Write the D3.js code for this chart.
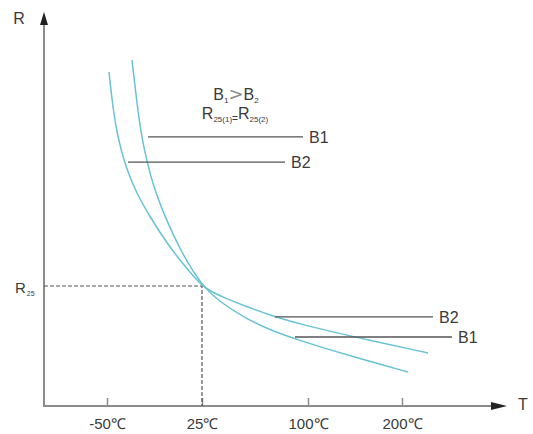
<!DOCTYPE html>
<html>
<head>
<meta charset="utf-8">
<script src="https://cdn.jsdelivr.net/npm/d3@7"></script>
<style>
html,body{margin:0;padding:0;background:#fff;}
svg{display:block;font-family:"Liberation Sans",Arial,sans-serif;}
</style>
</head>
<body>
<svg id="chart" width="533" height="434"></svg>
<script>
// ---- data (T in °C, R relative to R25) ----
const tickValues = [-50, 25, 100, 200];
const tickLabels = ["-50℃", "25℃", "100℃", "200℃"];

const b1T = [-30.26, -26.71, -22.37, -17.63, -13.68, -4.21, 7.63, 25, 37.74, 55.42, 73.11, 90.80, 144.68, 206.38];
const b1R = [2.883, 2.55, 2.217, 2.008, 1.842, 1.575, 1.30, 1.0, 0.867, 0.733, 0.633, 0.558, 0.417, 0.283];

const b2T = [-48.42, -46.05, -42.89, -38.95, -34.21, -27.11, -16.05, -1.84, 13.16, 25, 32.08, 41.27, 55.42, 76.65, 94.34, 144.68, 227.66];
const b2R = [2.783, 2.55, 2.317, 2.133, 1.967, 1.783, 1.575, 1.342, 1.142, 1.0, 0.95, 0.90, 0.833, 0.742, 0.683, 0.583, 0.442];

const refT = 25, refR = 1;

// label leader lines: name, R level, T start, T end
const leaderNames = ["B1", "B2", "B2", "B1"];
const leaderR = [2.242, 2.033, 0.742, 0.575];
const leaderT0 = [-17.6, -33.4, 76.6, 90.8];
const leaderT1 = [96.5, 83.7, 233, 253.2];

// ---- scales ----
const x = d3.scaleLinear().domain(tickValues).range([107, 202, 308, 402]);
const y = d3.scaleLinear().domain([0, 1]).range([406, 286]);

const svg = d3.select("#chart");
const axisColor = "#8c8c8c";
const textColor = "#3a3a3a";
const curveColor = "#67c3d3";
const FONT = "'Liberation Sans', Arial, sans-serif";

const x0 = 44, yBase = y(0);

// axes lines with arrows
svg.append("line").attr("x1", x0).attr("y1", yBase).attr("x2", x0).attr("y2", 22)
  .attr("stroke", axisColor).attr("stroke-width", 2);
svg.append("path").attr("d", `M${x0},12 L${x0-4},25 L${x0+4},25 Z`).attr("fill", "#222");
svg.append("line").attr("x1", x0 - 1).attr("y1", yBase).attr("x2", 494).attr("y2", yBase)
  .attr("stroke", axisColor).attr("stroke-width", 2);
svg.append("path").attr("d", `M507,${yBase} L491,${yBase-4} L491,${yBase+4} Z`).attr("fill", "#222");

// x axis ticks
const ax = svg.append("g").attr("transform", `translate(0,${yBase})`)
  .call(d3.axisBottom(x).tickValues(tickValues).tickFormat((d, i) => tickLabels[i]).tickSize(-8).tickPadding(12));
ax.select(".domain").remove();
ax.selectAll(".tick line").attr("stroke", axisColor).attr("stroke-width", 1.5);
ax.selectAll(".tick text").attr("fill", textColor).attr("font-size", 15).attr("font-family", FONT);

// axis labels
svg.append("text").attr("x", 19).attr("y", 24).attr("text-anchor", "middle")
  .attr("font-size", 16).attr("fill", textColor).text("R");
svg.append("text").attr("x", 523).attr("y", 410).attr("text-anchor", "middle")
  .attr("font-size", 16).attr("fill", textColor).text("T");

// R25 dashed guides
svg.append("path")
  .attr("d", `M${x0},${y(refR)} H${x(refT)} V${yBase}`)
  .attr("fill", "none").attr("stroke", "#555").attr("stroke-width", 1.2)
  .attr("stroke-dasharray", "4,2");
const r25 = svg.append("text").attr("x", 15).attr("y", 293).attr("fill", textColor).attr("font-size", 15);
r25.append("tspan").text("R");
r25.append("tspan").attr("font-size", 7).attr("dy", 3).attr("dx", 1).text("25");

// curves
const line = d3.line().x(d => x(d[0])).y(d => y(d[1])).curve(d3.curveBasis);
const b1 = b1T.map((t, i) => [t, b1R[i]]);
const b2 = b2T.map((t, i) => [t, b2R[i]]);
[b1, b2].forEach(s => {
  svg.append("path").datum(s).attr("d", line)
    .attr("fill", "none").attr("stroke", curveColor).attr("stroke-width", 1.5);
});

// leader lines + labels
leaderNames.forEach((n, i) => {
  svg.append("line").attr("x1", x(leaderT0[i])).attr("x2", x(leaderT1[i]))
    .attr("y1", y(leaderR[i])).attr("y2", y(leaderR[i]))
    .attr("stroke", "#555").attr("stroke-width", 1.3);
  svg.append("text").attr("x", x(leaderT1[i]) + 6).attr("y", y(leaderR[i]) + 6)
    .attr("fill", textColor).attr("font-size", 16).text(n);
});

// annotation texts
const t1 = svg.append("text").attr("x", 236).attr("y", 100).attr("text-anchor", "middle")
  .attr("fill", textColor).attr("font-size", 16);
t1.append("tspan").text("B");
t1.append("tspan").attr("font-size", 8).attr("dy", 3).text("1");
t1.append("tspan").attr("dy", -3).attr("fill", "#8a8a8a").attr("font-size", 18).attr("font-family", "'DejaVu Sans', sans-serif").text(">");
t1.append("tspan").attr("font-size", 16).text("B");
t1.append("tspan").attr("font-size", 8).attr("dy", 3).text("2");

const t2 = svg.append("text").attr("x", 235).attr("y", 119).attr("text-anchor", "middle")
  .attr("fill", textColor).attr("font-size", 16);
t2.append("tspan").text("R");
t2.append("tspan").attr("font-size", 8).attr("dy", 3).text("25(1)");
t2.append("tspan").attr("font-size", 10).text("=");
t2.append("tspan").attr("dy", -3).text("R");
t2.append("tspan").attr("font-size", 8).attr("dy", 3).text("25(2)");
</script>
</body>
</html>
